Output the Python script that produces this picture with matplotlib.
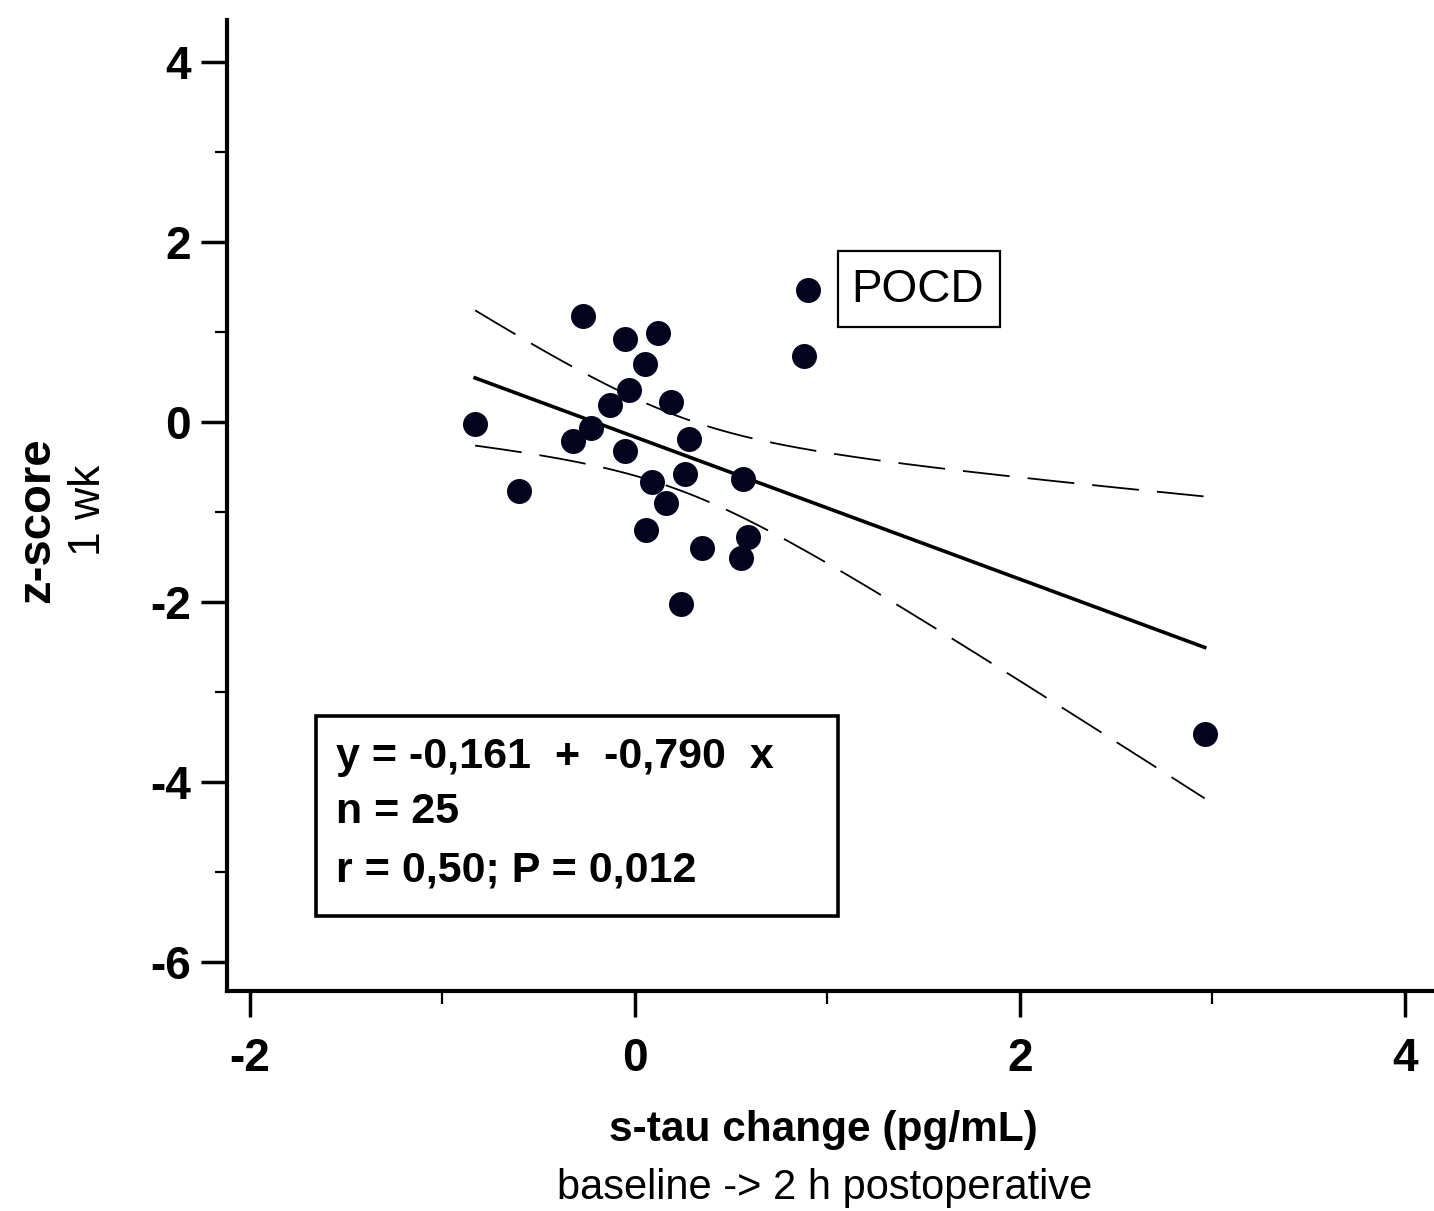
import numpy as np
import matplotlib
matplotlib.use("Agg")
import matplotlib.pyplot as plt
from matplotlib.patches import Rectangle
from matplotlib.ticker import MultipleLocator

plt.rcParams["font.family"] = ["Liberation Sans", "DejaVu Sans"]
plt.rcParams["axes.unicode_minus"] = False

# s-tau change (pg/mL), baseline -> 2 h postoperative
stau_change = [-0.27, -0.05, 0.12, 0.05, -0.03, -0.13, 0.19, -0.83, -0.23,
               -0.32, 0.28, -0.05, 0.26, 0.56, 0.09, -0.60, 0.16, 0.06,
               0.35, 0.59, 0.55, 0.24, 0.90, 0.88, 2.96]
# z-score at 1 week
z_score = [1.18, 0.93, 0.99, 0.65, 0.36, 0.19, 0.23, -0.02, -0.06,
           -0.21, -0.18, -0.32, -0.57, -0.63, -0.66, -0.76, -0.89, -1.20,
           -1.40, -1.27, -1.51, -2.02, 1.47, 0.74, -3.46]

intercept = -0.161
slope = -0.790
t_crit = 2.069  # t(0.975, df=23)

x = np.array(stau_change)
y = np.array(z_score)
n = len(x)

# regression line and 95% confidence band
xx = np.linspace(x.min(), x.max(), 200)
yy = intercept + slope * xx
resid = y - (intercept + slope * x)
s = np.sqrt(np.sum(resid ** 2) / (n - 2))
sxx = np.sum((x - x.mean()) ** 2)
half = t_crit * s * np.sqrt(1.0 / n + (xx - x.mean()) ** 2 / sxx)

fig = plt.figure(figsize=(14.34, 12.11), dpi=100)
ax = fig.add_axes([227 / 1434, 1 - 991 / 1211, 1207 / 1434, 971 / 1211])

ax.plot(xx, yy, color="black", linewidth=2.6, zorder=2)
ax.plot(xx, yy + half, color="black", linewidth=1.3, dashes=(26, 10), zorder=2)
ax.plot(xx, yy - half, color="black", linewidth=1.3, dashes=(26, 10), zorder=2)
ax.plot(x, y, "o", color="#04041e", markersize=18, markeredgewidth=0, zorder=3)

ax.set_xlim(-2.119, 4.151)
ax.set_ylim(-6.317, 4.472)

ax.spines["top"].set_visible(False)
ax.spines["right"].set_visible(False)
ax.spines["left"].set_linewidth(3)
ax.spines["bottom"].set_linewidth(3)

ax.xaxis.set_major_locator(MultipleLocator(2))
ax.xaxis.set_minor_locator(MultipleLocator(1))
ax.yaxis.set_major_locator(MultipleLocator(2))
ax.yaxis.set_minor_locator(MultipleLocator(1))
ax.tick_params(which="major", length=19, width=2.5, labelsize=33, direction="out")
ax.tick_params(which="minor", length=9, width=1.6, direction="out")
ax.tick_params(axis="y", which="major", pad=7)
ax.tick_params(axis="x", which="major", pad=14)
for lab in ax.get_xticklabels() + ax.get_yticklabels():
    lab.set_fontweight("bold")

# regression stats box
ax.add_patch(Rectangle((0.0737, 0.0772), 0.4325, 0.206, transform=ax.transAxes,
                       fill=False, edgecolor="black", linewidth=2.6, zorder=4))
stats_lines = ["y = -0,161  +  -0,790  x", "n = 25", "r = 0,50; P = 0,012"]
for line, ypos in zip(stats_lines, [0.241, 0.1843, 0.1246]):
    ax.text(0.0903, ypos, line, transform=ax.transAxes, fontsize=31,
            fontweight="bold", ha="left", va="center", zorder=5)

# POCD label
ax.add_patch(Rectangle((0.5062, 0.6838), 0.1342, 0.0783, transform=ax.transAxes,
                       fill=False, edgecolor="black", linewidth=1.6, zorder=4))
ax.text(0.5725, 0.7219, "POCD", transform=ax.transAxes, fontsize=33,
        ha="center", va="center", zorder=5)

fig.text(0.0258, 0.5706, "z-score", rotation=90, fontsize=34, fontweight="bold",
         ha="center", va="center")
fig.text(0.0614, 0.5789, "1 wk", rotation=90, fontsize=32, ha="center", va="center")
fig.text(0.574, 0.0669, "s-tau change (pg/mL)", fontsize=30.5, fontweight="bold",
         ha="center", va="center")
fig.text(0.5753, 0.019, "baseline -> 2 h postoperative", fontsize=30,
         ha="center", va="center")

fig.savefig("out.png", dpi=100)
